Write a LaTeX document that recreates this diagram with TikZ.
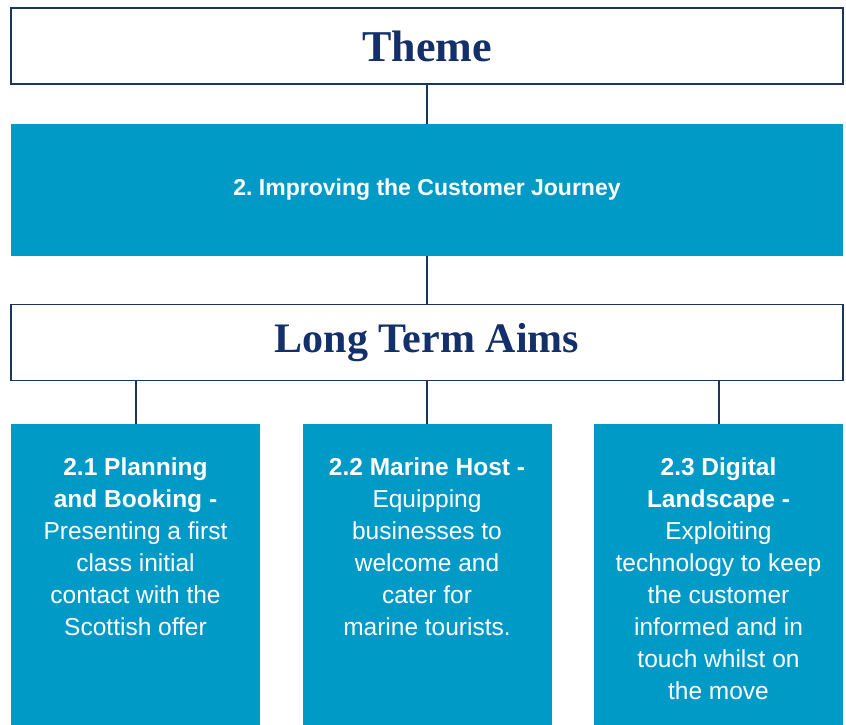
\documentclass[tikz,border=0pt]{standalone}
\usepackage{fontspec}
\setmainfont{Liberation Sans}
\newfontfamily\headserif{Liberation Serif}
\definecolor{aimblue}{HTML}{009AC7}
\definecolor{navyline}{HTML}{1B365D}
\definecolor{navytext}{HTML}{13306A}
\begin{document}
\frenchspacing
\begin{tikzpicture}[x=1pt,y=-1pt,
  headbox/.style={draw=navyline, line width=1.1pt, fill=white, minimum width=832pt, minimum height=76pt, inner sep=0pt, text=navytext, font=\headserif\bfseries\fontsize{42}{48}\selectfont},
  band/.style={fill=aimblue, minimum width=832pt, minimum height=132pt, inner sep=0pt, text=white, font=\bfseries\fontsize{23}{26}\selectfont},
  aimbox/.style={fill=aimblue, minimum width=249pt, minimum height=301pt, inner sep=0pt, anchor=north},
  aimtext/.style={text=white, align=center, inner sep=0pt, anchor=north, font=\fontsize{24.5}{32}\selectfont},
  link/.style={draw=navyline, line width=2pt}]
\useasboundingbox (0,0) rectangle (846,725);
\fill[white] (0,0) rectangle (846,725);
\node[headbox, font=\headserif\bfseries\fontsize{44}{48}\selectfont] (theme) at (427,46) {Theme};
\node[band] (journey) at (427,190) {2.\ Improving the Customer Journey};
\node[headbox] (lta) at (427,342.5) {Long Term Aims};
\node[aimbox] (a1) at (135.5,424) {};
\node[aimbox] (a2) at (427,424) {};
\node[aimbox] (a3) at (718.5,424) {};
\node[aimtext] (t1) at (135.5,458) {\textbf{2.1 Planning}\\\textbf{and Booking -}\\Presenting a first\\class initial\\contact with the\\Scottish offer};
\node[aimtext] (t2) at (427,458) {\textbf{2.2 Marine Host -}\\Equipping\\businesses to\\welcome and\\cater for\\marine tourists.};
\node[aimtext] (t3) at (718.5,458) {\textbf{2.3 Digital}\\\textbf{Landscape -}\\Exploiting\\technology to keep\\the customer\\informed and in\\touch whilst on\\the move};
\draw[link] (theme.south) -- (journey.north);
\draw[link] (journey.south) -- (lta.north);
\draw[link] (lta.south -| a1.north) -- (a1.north);
\draw[link] (lta.south -| a2.north) -- (a2.north);
\draw[link] (lta.south -| a3.north) -- (a3.north);
\end{tikzpicture}
\end{document}
